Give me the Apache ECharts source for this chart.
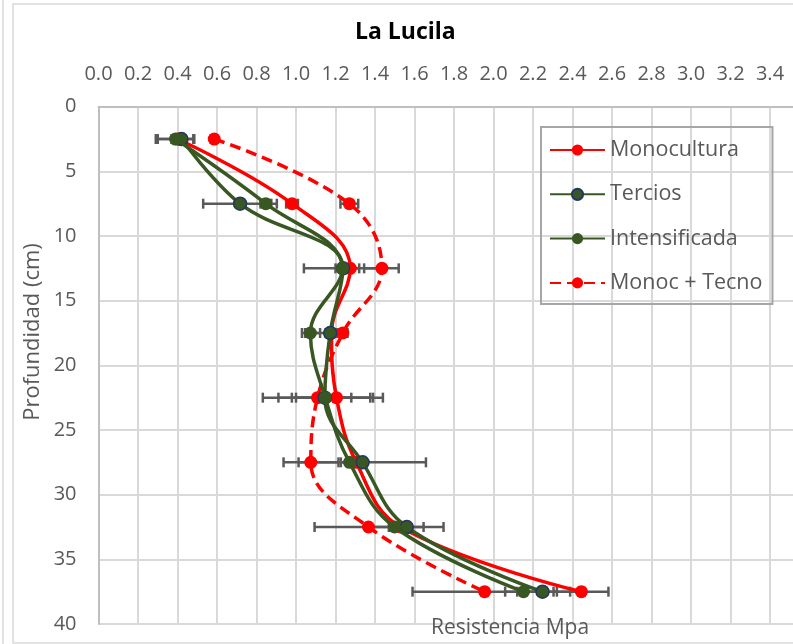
<!DOCTYPE html>
<html><head><meta charset="utf-8">
<script src="https://cdn.jsdelivr.net/npm/echarts@6/dist/echarts.min.js"></script>
<style>html,body{margin:0;padding:0;background:#fff}#c{width:793px;height:644px}</style>
</head><body><div id="c"></div>
<script>
const depths = [2.5, 7.5, 12.5, 17.5, 22.5, 27.5, 32.5, 37.5];
const xTickLabels = ['0.0','0.2','0.4','0.6','0.8','1.0','1.2','1.4','1.6','1.8','2.0','2.2','2.4','2.6','2.8','3.0','3.2','3.4'];
const seriesNames = ['Monocultura', 'Tercios', 'Intensificada', 'Monoc + Tecno'];

const monocultura   = [0.40, 0.98, 1.275, 1.18, 1.205, 1.305, 1.53, 2.445];
const tercios       = [0.42, 0.717, 1.238, 1.173, 1.146, 1.337, 1.561, 2.248];
const intensificada = [0.39, 0.847, 1.235, 1.073, 1.148, 1.271, 1.499, 2.152];
const monocTecno    = [0.586, 1.27, 1.435, 1.237, 1.109, 1.075, 1.367, 1.955];

const monoculturaLow    = [0.37, 0.95, 1.23, 1.15, 0.979, 1.28, 1.50, 2.304];
const monoculturaHigh   = [0.43, 1.01, 1.32, 1.21, 1.376, 1.33, 1.56, 2.582];
const terciosLow        = [0.30, 0.53, 1.04, 1.046, 0.832, 1.013, 1.37, 2.12];
const terciosHigh       = [0.48, 0.903, 1.45, 1.20, 1.44, 1.658, 1.747, 2.388];
const intensificadaLow  = [0.29, 0.82, 1.20, 1.03, 0.911, 1.227, 1.47, 2.059];
const intensificadaHigh = [0.485, 0.875, 1.27, 1.122, 1.39, 1.32, 1.53, 2.25];
const monocTecnoLow     = [0.57, 1.225, 1.345, 1.215, 1.0, 0.937, 1.094, 1.59];
const monocTecnoHigh    = [0.60, 1.315, 1.52, 1.261, 1.28, 1.215, 1.646, 2.321];

const RED = '#FF0000', GREEN = '#385723', NAVY = '#1F3864';

function pts(vals){ return vals.map((v,i)=>[v, depths[i]]); }
function errData(lo, hi){ return depths.map((d,i)=>[d, lo[i], hi[i]]); }

function errSeries(lo, hi){
  return {
    type: 'custom', silent: true, z: 1,
    data: errData(lo, hi),
    encode: { x: [1,2], y: 0 },
    renderItem: function(params, api){
      const a = api.coord([api.value(1), api.value(0)]);
      const b = api.coord([api.value(2), api.value(0)]);
      const st = { stroke: '#595959', lineWidth: 2.5 };
      const h = 5;
      return { type: 'group', children: [
        { type: 'line', shape: { x1: a[0], y1: a[1], x2: b[0], y2: b[1] }, style: st },
        { type: 'line', shape: { x1: a[0], y1: a[1]-h, x2: a[0], y2: a[1]+h }, style: st },
        { type: 'line', shape: { x1: b[0], y1: b[1]-h, x2: b[0], y2: b[1]+h }, style: st }
      ]};
    }
  };
}

function lineSeries(name, vals, color, z, opts){
  return Object.assign({
    name: name, type: 'line', data: pts(vals), smooth: 0.4, z: z,
    symbol: 'circle', symbolSize: 13,
    lineStyle: { color: color, width: 3.5 },
    itemStyle: { color: color },
    emphasis: { disabled: true }
  }, opts || {});
}

const chart = echarts.init(document.getElementById('c'));
const FONT = 'Open Sans';
chart.setOption({
  animation: false,
  textStyle: { fontFamily: FONT },
  title: [
    { text: 'La Lucila', left: 355, top: 21, padding: 0,
      textStyle: { fontFamily: FONT, fontSize: 23, fontWeight: 'bold', color: '#000' } },
    { text: 'Resistencia Mpa', left: 431, top: 618, padding: 0,
      textStyle: { fontFamily: FONT, fontSize: 21, fontWeight: 'normal', color: '#595959' } }
  ],
  graphic: [
    { type: 'rect', shape: { x: 13, y: 4, width: 800, height: 639 }, style: { fill: 'none', stroke: '#D9D9D9', lineWidth: 1.5 }, z: -10 },
    { type: 'line', shape: { x1: 3, y1: 0, x2: 3, y2: 644 }, style: { stroke: '#D9D9D9', lineWidth: 1.5 }, z: -10 },
    { type: 'text', x: 33, y: 332, rotation: Math.PI / 2,
      style: { text: 'Profundidad (cm)', fontFamily: FONT, fontSize: 22, fill: '#595959', align: 'center', verticalAlign: 'middle' } }
  ],
  legend: {
    orient: 'vertical', left: 541, top: 127,
    padding: [12, 10, 10, 8],
    itemGap: 22.3, itemWidth: 55, itemHeight: 14,
    borderColor: '#A6A6A6', borderWidth: 2,
    textStyle: { fontFamily: FONT, fontSize: 21.5, color: '#595959', lineHeight: 22 },
    data: seriesNames
  },
  grid: { left: 98.5, top: 106.7, width: 3.6 * 197.5, height: 517.3, outerBoundsMode: 'none', containLabel: false },
  xAxis: {
    type: 'value', position: 'top', min: 0, max: 3.6, interval: 0.2,
    axisLine: { show: true, lineStyle: { color: '#BFBFBF', width: 2 } },
    axisTick: { show: false },
    splitLine: { show: true, lineStyle: { color: '#D9D9D9', width: 2 } },
    axisLabel: { margin: 22, fontFamily: FONT, fontSize: 20, color: '#595959',
      formatter: function(v){ const i = Math.round(v/0.2); return xTickLabels[i] || ''; } }
  },
  yAxis: {
    type: 'value', inverse: true, min: 0, max: 40, interval: 5,
    axisLine: { show: true, lineStyle: { color: '#BFBFBF', width: 2 } },
    axisTick: { show: false },
    splitLine: { show: true, lineStyle: { color: '#D9D9D9', width: 2 } },
    axisLabel: { margin: 22, fontFamily: FONT, fontSize: 20, color: '#595959' }
  },
  series: [
    errSeries(monoculturaLow, monoculturaHigh),
    errSeries(terciosLow, terciosHigh),
    errSeries(intensificadaLow, intensificadaHigh),
    errSeries(monocTecnoLow, monocTecnoHigh),
    lineSeries('Monocultura', monocultura, RED, 3),
    lineSeries('Monoc + Tecno', monocTecno, RED, 4, { lineStyle: { color: RED, width: 3.5, type: [11, 6] } }),
    lineSeries('Tercios', tercios, GREEN, 5, { itemStyle: { color: GREEN, borderColor: NAVY, borderWidth: 1.5 } }),
    lineSeries('Intensificada', intensificada, GREEN, 6)
  ]
});
</script></body></html>
